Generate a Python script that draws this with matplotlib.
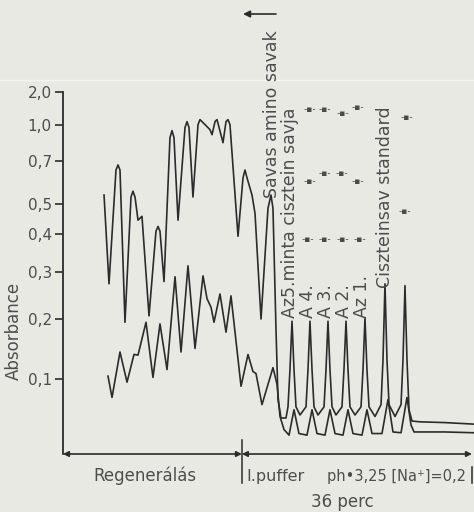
import numpy as np
import matplotlib.pyplot as plt
from matplotlib import transforms
from matplotlib.lines import Line2D
from matplotlib.ticker import NullLocator

# two recorder traces, time in min, absorbance
upper_t = [6.42, 7.20, 8.29, 8.61, 8.92, 9.70, 10.64, 10.95, 11.27, 11.74,
           12.36, 13.46, 14.55, 14.87, 15.18, 15.81, 16.74, 17.06, 17.37, 18.00,
           19.09, 19.41, 19.72, 20.34, 21.13, 21.44, 22.22, 23.00, 23.32, 23.79,
           24.10, 25.04, 25.51, 25.82, 26.13, 27.39, 28.17, 28.48, 28.80, 29.58,
           30.05, 30.99, 32.08, 32.55, 32.86, 33.33, 33.65, 34.12, 34.90,
           35.21, 35.52, 35.84, 36.15, 36.46, 37.09,
           38.03, 38.34, 38.65, 38.97, 39.28, 39.91,
           40.85, 41.16, 41.47, 41.78, 42.10, 42.72,
           43.66, 43.97, 44.29, 44.60, 44.91, 45.70,
           46.64, 46.95, 47.26, 47.57, 47.89, 48.83,
           49.77, 50.08, 50.39, 50.70, 51.02, 51.96,
           52.90, 53.21, 53.52, 53.83, 54.15, 54.62, 55.87, 59.78, 64.32]
upper_a = [0.535, 0.272, 0.651, 0.679, 0.651, 0.194, 0.527, 0.551, 0.527, 0.443,
           0.456, 0.206, 0.408, 0.423, 0.408, 0.277, 0.870, 0.937, 0.870, 0.443,
           0.969, 1.041, 0.969, 0.527, 1.004, 1.068, 1.004, 0.947, 0.897, 1.041,
           1.068, 0.828, 1.041, 1.068, 1.004, 0.393, 0.611, 0.651, 0.611, 0.535,
           0.466, 0.200, 0.484, 0.535, 0.484, 0.182, 0.070, 0.045, 0.045,
           0.060, 0.114, 0.196, 0.114, 0.060, 0.049,
           0.060, 0.114, 0.196, 0.114, 0.060, 0.049,
           0.060, 0.114, 0.196, 0.114, 0.060, 0.049,
           0.060, 0.114, 0.196, 0.114, 0.060, 0.049,
           0.060, 0.114, 0.202, 0.114, 0.060, 0.047,
           0.063, 0.130, 0.272, 0.130, 0.063, 0.047,
           0.063, 0.130, 0.268, 0.130, 0.056, 0.041, 0.040, 0.039, 0.037]

lower_t = [7.04, 7.67, 8.92, 10.02, 11.11, 11.74, 12.99, 14.08, 15.18, 16.28,
           17.53, 18.47, 19.56, 20.66, 21.91, 22.54, 23.16, 23.63, 24.57, 25.51,
           26.29, 27.86, 28.95, 29.73, 30.20, 31.14, 32.86, 33.49, 33.96, 34.59,
           35.37, 36.15, 36.93, 38.18, 38.97, 39.75, 41.00, 41.78, 42.57,
           43.82, 44.60, 45.38, 46.79, 47.57, 48.36, 49.92, 50.86, 51.64,
           52.90, 53.83, 54.46, 54.93, 59.78, 64.32]
lower_a = [0.104, 0.073, 0.142, 0.095, 0.138, 0.137, 0.194, 0.102, 0.191, 0.114,
           0.288, 0.142, 0.314, 0.148, 0.290, 0.240, 0.223, 0.194, 0.250, 0.176,
           0.246, 0.089, 0.138, 0.111, 0.108, 0.063, 0.117, 0.092, 0.047, 0.030,
           0.023, 0.056, 0.025, 0.023, 0.056, 0.025, 0.023, 0.056, 0.025,
           0.023, 0.056, 0.025, 0.023, 0.056, 0.025, 0.025, 0.070, 0.027,
           0.026, 0.073, 0.036, 0.027, 0.027, 0.026]

y_ticks = [0.1, 0.2, 0.3, 0.4, 0.5, 0.7, 1.0, 2.0]
y_tick_labels = ['0,1', '0,2', '0,3', '0,4', '0,5', '0,7', '1,0', '2,0']

regen_end = 28   # min
run_end = 64

plt.rcParams['font.family'] = 'DejaVu Sans'
ink = '#2b2b2b'
txt = '#4d4d4d'
paper = '#e9e9e4'

W, H = 474, 512
fig = plt.figure(figsize=(W / 100, H / 100), dpi=100, facecolor=paper)


def fpos(x, y):
    # pixel position in the picture -> figure fraction
    return x / W, 1 - y / H


ax = fig.add_axes([63 / W, 1 - 454 / H, (474 - 63) / W, (454 - 92) / H])
ax.set_facecolor('none')

# recorder paper is linear in transmittance, labelled in absorbance
fwd = lambda a: 1 - 10.0 ** (-np.asarray(a, dtype=float))
inv = lambda p: -np.log10(np.clip(1 - np.asarray(p, dtype=float), 1e-9, None))
ax.set_yscale('function', functions=(fwd, inv))
ax.set_ylim(0, 2.0)
ax.set_xlim(0, 64.32)

ax.plot(upper_t, upper_a, color=ink, lw=1.2, solid_joinstyle='round', clip_on=False)
ax.plot(lower_t, lower_a, color=ink, lw=1.2, solid_joinstyle='round', clip_on=False)

for s in ['top', 'right', 'bottom']:
    ax.spines[s].set_visible(False)
ax.spines['left'].set_color(ink)
ax.spines['left'].set_linewidth(1.3)
ax.set_xticks([])
ax.set_yticks(y_ticks)
ax.set_yticklabels(y_tick_labels)
ax.yaxis.set_minor_locator(NullLocator())
ax.tick_params(axis='y', direction='out', length=6, width=1.2, color=ink,
               labelsize=11, labelcolor=txt, pad=2)

# time axis drawn as arrows
arrow_kw = dict(arrowstyle='<|-|>', color=ink, lw=1.2, shrinkA=0, shrinkB=0,
                mutation_scale=8)
ax.annotate('', xy=(0, 0), xytext=(regen_end, 0), arrowprops=arrow_kw,
            annotation_clip=False)
ax.annotate('', xy=(regen_end, 0), xytext=(run_end, 0), arrowprops=arrow_kw,
            annotation_clip=False)
trans = transforms.blended_transform_factory(ax.transData, ax.transAxes)
ax.plot([regen_end, regen_end], [0.039, -0.080], color=ink, lw=1.1,
        transform=trans, clip_on=False)
ax.plot([run_end, run_end], [-0.036, -0.080], color=ink, lw=1.1,
        transform=trans, clip_on=False)

fig.text(*fpos(145, 476), 'Regenerálás', ha='center', va='center', fontsize=12, color=txt)
fig.text(*fpos(246, 476), 'I.puffer', ha='left', va='center', fontsize=11.5, color=txt)
fig.text(*fpos(466, 476), 'ph•3,25 [Na⁺]=0,2', ha='right', va='center',
         fontsize=10.5, color=txt)
fig.text(*fpos(342, 502), '36 perc', ha='center', va='center', fontsize=12, color=txt)
fig.text(*fpos(14, 331), 'Absorbance', rotation=90, ha='center', va='center',
         fontsize=12, color=txt)

# peak labels, written upwards
peak_labels = ['Savas amino savak', 'Az5.minta cisztein savja', 'A 4.', 'A 3.',
               'A 2.', 'Az 1.', 'Ciszteinsav standard']
label_pos = [(277, 198), (295, 318), (313, 318), (331, 318), (349, 318),
             (367, 318), (390, 288)]
for s, (x, y) in zip(peak_labels, label_pos):
    fig.text(*fpos(x, y), s, rotation=90, rotation_mode='anchor', ha='left',
             va='baseline', fontsize=12.5, color=txt)

ax.annotate('', xy=fpos(243, 14), xytext=fpos(276, 14), xycoords='figure fraction',
            textcoords='figure fraction',
            arrowprops=dict(arrowstyle='-|>', color=ink, lw=1.2, mutation_scale=10,
                            shrinkA=0, shrinkB=0))

# small register marks on the chart paper
marks = [(308, 240), (310, 182), (310, 110), (325, 240), (325, 173), (325, 110),
         (343, 240), (342, 173), (343, 113), (360, 240), (358, 182), (358, 108),
         (405, 212), (407, 117)]
for x, y in marks:
    fig.text(*fpos(x, y), '-▪-', ha='center', va='center', fontsize=6.5, color='#4a4a4a')

fig.add_artist(Line2D([0, 1], [1 - 80 / H] * 2, transform=fig.transFigure,
                      color='#f4f4f0', lw=1))

fig.savefig('out.png', dpi=100, facecolor=paper)
